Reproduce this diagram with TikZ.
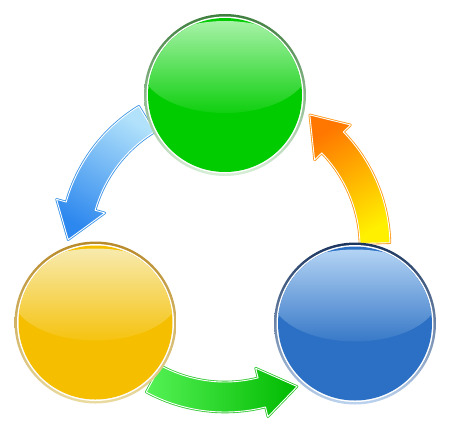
\documentclass[tikz,border=0pt]{standalone}
% balls
\definecolor{gBase}{HTML}{00CC00}
\definecolor{gHi}{HTML}{A6F2A6}
\definecolor{gRingT}{HTML}{3F7F3F}
\definecolor{gRingB}{HTML}{D9EFD9}
\definecolor{yBase}{HTML}{F5BF00}
\definecolor{yHi}{HTML}{F7EAAE}
\definecolor{yRingT}{HTML}{B88A2A}
\definecolor{yRingB}{HTML}{EADBA0}
\definecolor{bBase}{HTML}{2B70C4}
\definecolor{bHi}{HTML}{B3D3F4}
\definecolor{bRingT}{HTML}{1B355E}
\definecolor{bRingB}{HTML}{BCD3EF}
% arrows
\definecolor{baTail}{HTML}{B2E2FB}
\definecolor{baHead}{HTML}{2C87EE}
\definecolor{baEdge}{HTML}{3D95E6}
\definecolor{gaTail}{HTML}{55F255}
\definecolor{gaHead}{HTML}{00BA00}
\definecolor{gaEdge}{HTML}{38C838}
\definecolor{oaTail}{HTML}{FFF000}
\definecolor{oaHead}{HTML}{FF7600}
\definecolor{oaEdge}{HTML}{FF9A1A}
\begin{document}
\begin{tikzpicture}[x=1pt,y=1pt,line join=round,
		ring/.style={circle,minimum size=162pt,inner sep=0pt}]
	\useasboundingbox (0,0) rectangle (450,-432);
	% curved arrows round the centre
	\begin{scope}[shift={(225,-247)}]
		\foreach \a/\t/\h/\e/\s in {121.5/baTail/baHead/baEdge/-30,241.5/gaTail/gaHead/gaEdge/90,1.5/oaTail/oaHead/oaEdge/210}
			\shade[top color=\t,bottom color=\h,shading angle=\s,draw=white,line width=0.9pt,preaction={draw=\e,line width=2.6pt}]
			(\a:165) arc[start angle=\a,delta angle=42.7,radius=165] -- (\a+42.7:175) -- (\a+55.8:157)
			-- (\a+42.7:125) -- (\a+42.7:135) arc[start angle=\a+42.7,delta angle=-42.7,radius=135] -- cycle;
	\end{scope}
	% glossy balls
	\foreach \n/\p/\rt/\rb/\c/\hi in {gball/{225,-95}/gRingT/gRingB/gBase/gHi,yball/{95.5,-322.5}/yRingT/yRingB/yBase/yHi,bball/{355,-323.5}/bRingT/bRingB/bBase/bHi}{
		\node[ring,top color=\rt,bottom color=\rb] (\n) at (\p) {};
		\fill[white] (\n.center) circle (78.5);
		\fill[\c] (\n.center) circle (77);
		\begin{scope}
			\clip (\n.center) circle (77);
			\shade[top color=\hi,bottom color=\c!94!white] ([yshift=28pt]\n.center) ellipse (84 and 46);
		\end{scope}
	}
\end{tikzpicture}
\end{document}
